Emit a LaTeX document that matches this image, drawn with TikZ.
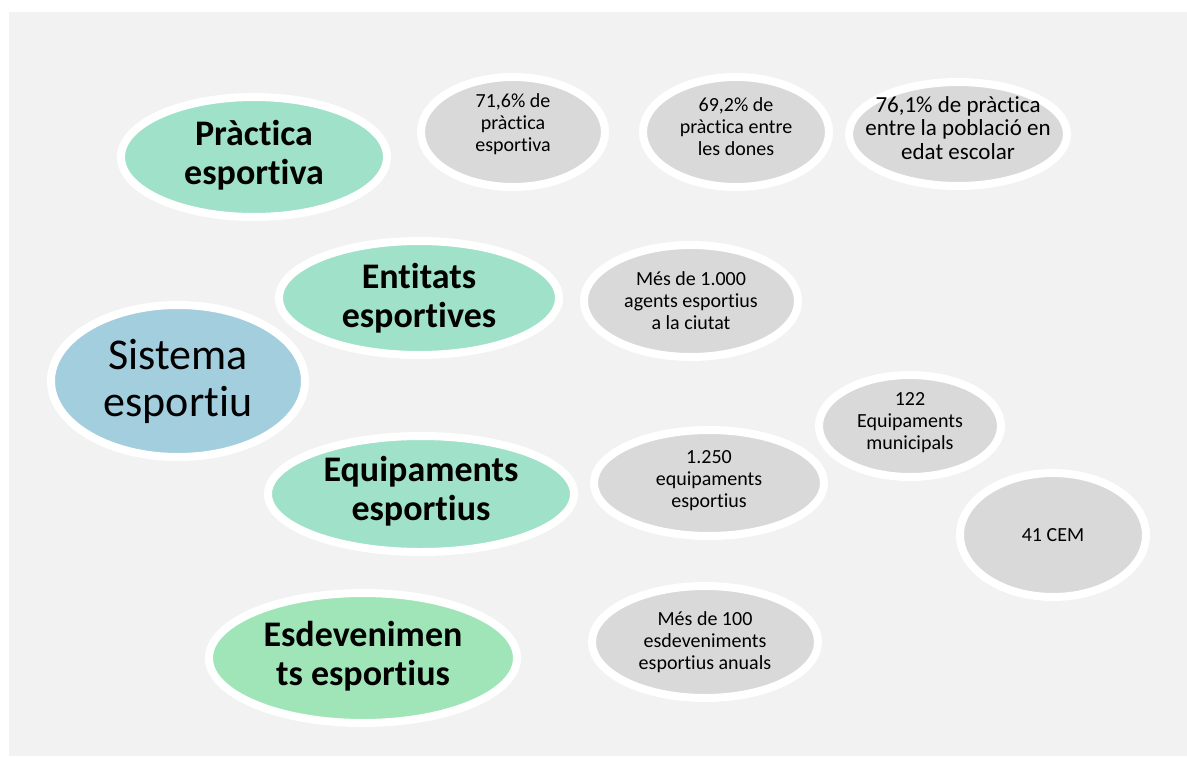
\documentclass[tikz,border=0pt]{standalone}
\usepackage{fontspec}
\setmainfont{Carlito}[Ligatures=NoCommon]
\usetikzlibrary{shapes.geometric}
\definecolor{panel}{HTML}{F2F2F2}
\definecolor{mint}{HTML}{A0E1C9}
\definecolor{leaf}{HTML}{A0E5B8}
\definecolor{sky}{HTML}{A2CEDD}
\definecolor{stone}{HTML}{D9D9D9}
\tikzset{
  bub/.style={ellipse, draw=white, line width=8pt, inner sep=0pt},
  head/.style={align=center, inner sep=0pt, font=\fontsize{36}{39}\selectfont\bfseries},
  small/.style={align=center, inner sep=0pt, font=\fontsize{20}{22}\selectfont},
  smallb/.style={align=center, inner sep=0pt, font=\fontsize{23}{23.5}\selectfont},
  big/.style={align=center, inner sep=0pt, font=\fontsize{44}{47}\selectfont}
}
\newcommand{\bubble}[7]{% name, x, y, rx, ry, fill, (unused)
  \node[bub, fill=#6, minimum width={2*(#4-4)*1pt}, minimum height={2*(#5-4)*1pt}] (#1) at (#2,#3) {};
}
\begin{document}
\begin{tikzpicture}[x=1pt,y=-1pt]
\useasboundingbox (0,0) rectangle (1187,756);
\fill[white] (0,0) rectangle (1187,756);
\fill[panel] (9,12) rectangle (1187,756);

% main topics
\bubble{prac}{254}{157}{137}{64}{mint}{}
\bubble{ent}{419}{298}{144}{61}{mint}{}
\bubble{sis}{178}{381}{131}{80}{sky}{}
\bubble{equ}{421}{494}{157}{62}{mint}{}
\bubble{esd}{363}{658}{158}{69}{leaf}{}
% facts
\bubble{f1}{513}{132}{96}{59}{stone}{}
\bubble{f2}{736}{132}{97}{59}{stone}{}
\bubble{f3}{958}{134}{113}{56}{stone}{}
\bubble{f4}{691}{301}{111}{60}{stone}{}
\bubble{f5}{910}{426}{95}{55}{stone}{}
\bubble{f6}{709}{483}{119}{57}{stone}{}
\bubble{f7}{1053}{535}{97}{66}{stone}{}
\bubble{f8}{705}{642}{117}{60}{stone}{}

\node[head] (pract) at ([yshift=2pt]prac.center) {Pràctica\\esportiva};
\node[head] (entt) at (ent.center) {Entitats\\esportives};
\node[big] (sist) at (sis.center) {Sistema\\esportiu};
\node[head] (equt) at ([yshift=3pt]equ.center) {Equipaments\\esportius};
\node[head] (esdt) at ([yshift=2pt]esd.center) {Esdevenimen\\ts esportius};

\node[small] (f1t) at ([yshift=8pt]f1.center) {71,6\% de\\pràctica\\esportiva};
\node[small] (f2t) at ([yshift=5pt]f2.center) {69,2\% de\\pràctica entre\\les dones};
\node[smallb] (f3t) at ([yshift=6pt]f3.center) {76,1\% de pràctica\\entre la població en\\edat escolar};
\node[small] (f4t) at (f4.center) {Més de 1.000\\agents esportius\\a la ciutat};
\node[small] (f5t) at ([yshift=3pt]f5.center) {122\\Equipaments\\municipals};
\node[small] (f6t) at ([yshift=2pt]f6.center) {1.250\\equipaments\\esportius};
\node[small] (f7t) at (f7.center) {41 CEM};
\node[small] (f8t) at (f8.center) {Més de 100\\esdeveniments\\esportius anuals};
\end{tikzpicture}
\end{document}
